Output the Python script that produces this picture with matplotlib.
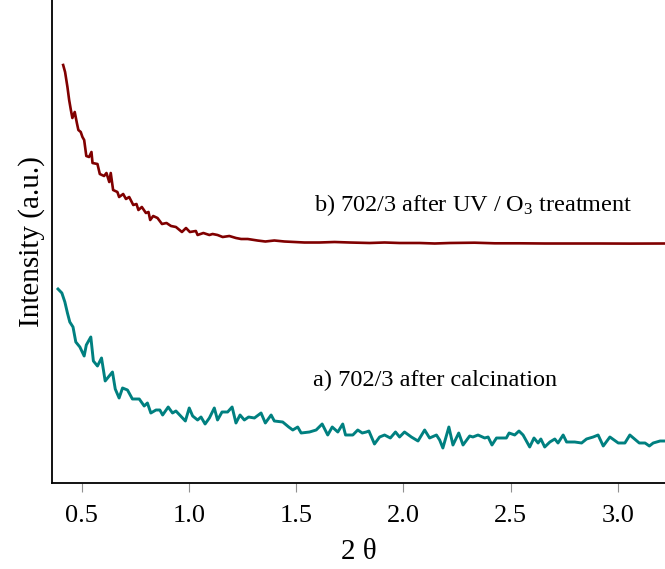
import matplotlib
matplotlib.use("Agg")
import matplotlib.pyplot as plt

plt.rcParams['font.family'] = ['Liberation Serif', 'DejaVu Serif']
plt.rcParams['mathtext.fontset'] = 'custom'
plt.rcParams['mathtext.rm'] = 'Liberation Serif'
plt.rcParams['mathtext.it'] = 'Liberation Serif:italic'

# a) 702/3 after calcination  (2 theta, intensity a.u.)
two_theta_a = [0.389, 0.407, 0.421, 0.433, 0.444, 0.459, 0.472, 0.491, 0.511, 0.521,
               0.542, 0.554, 0.573, 0.592, 0.609, 0.624, 0.643, 0.656, 0.674, 0.690,
               0.713, 0.736, 0.768, 0.791, 0.806, 0.822, 0.846, 0.864, 0.877, 0.903,
               0.923, 0.939, 0.983, 1.001, 1.017, 1.040, 1.056, 1.075, 1.095, 1.118,
               1.133, 1.154, 1.180, 1.201, 1.219, 1.238, 1.258, 1.278, 1.305, 1.336,
               1.356, 1.383, 1.398, 1.437, 1.465, 1.484, 1.507, 1.523, 1.562, 1.593,
               1.621, 1.647, 1.668, 1.694, 1.717, 1.730, 1.764, 1.787, 1.808, 1.827,
               1.839, 1.865, 1.889, 1.912, 1.939, 1.963, 1.982, 2.005, 2.037, 2.068,
               2.099, 2.122, 2.154, 2.169, 2.184, 2.212, 2.231, 2.258, 2.278, 2.309,
               2.324, 2.348, 2.379, 2.395, 2.413, 2.434, 2.480, 2.493, 2.519, 2.539,
               2.558, 2.589, 2.609, 2.628, 2.641, 2.659, 2.683, 2.706, 2.721, 2.745,
               2.761, 2.799, 2.831, 2.854, 2.885, 2.908, 2.932, 2.963, 3.002, 3.033,
               3.056, 3.100, 3.127, 3.147, 3.165, 3.197, 3.220]
intensity_a = [197, 193, 184, 173, 164, 159, 144, 139, 130, 141,
               149, 125, 120, 128, 105, 109, 114, 97, 88, 98,
               96, 87, 87, 80, 83, 73, 76, 76, 71, 79,
               73, 75, 65, 78, 70, 66, 69, 62, 68, 78,
               66, 74, 74, 79, 63, 71, 66, 69, 68, 73,
               63, 71, 65, 64, 59, 56, 59, 53, 54, 56,
               62, 51, 59, 54, 62, 51, 51, 56, 53, 54,
               55, 42, 49, 51, 48, 54, 49, 54, 49, 45,
               56, 48, 51, 46, 38, 59, 41, 53, 41, 50,
               49, 51, 48, 49, 41, 48, 48, 53, 51, 55,
               51, 39, 48, 43, 47, 39, 44, 47, 43, 51,
               44, 44, 43, 47, 49, 51, 40, 49, 43, 43,
               51, 43, 43, 40, 43, 45, 45]

# b) 702/3 after UV / O3 treatment
two_theta_b = [0.413, 0.422, 0.433, 0.441, 0.449, 0.456, 0.467, 0.477, 0.484, 0.495,
               0.503, 0.511, 0.521, 0.534, 0.545, 0.550, 0.573, 0.584, 0.604, 0.615,
               0.628, 0.635, 0.646, 0.666, 0.674, 0.693, 0.706, 0.721, 0.740, 0.755,
               0.764, 0.780, 0.799, 0.811, 0.819, 0.833, 0.853, 0.874, 0.895, 0.916,
               0.939, 0.967, 0.986, 1.004, 1.032, 1.040, 1.067, 1.095, 1.110, 1.133,
               1.157, 1.188, 1.219, 1.243, 1.274, 1.319, 1.356, 1.398, 1.445, 1.492,
               1.538, 1.608, 1.679, 1.749, 1.842, 1.912, 1.982, 2.076, 2.146, 2.216,
               2.332, 2.426, 2.543, 2.659, 2.776, 2.916, 3.056, 3.220]
intensity_b = [421, 414, 399, 386, 376, 368, 374, 363, 356, 354,
               349, 346, 330, 329, 334, 323, 322, 312, 310, 313,
               304, 313, 296, 294, 289, 292, 287, 289, 281, 282,
               276, 279, 273, 274, 266, 270, 268, 262, 263, 260,
               259, 254, 258, 254, 255, 251, 253, 251, 252, 251,
               249, 250, 248, 247, 247, 245.5, 244.5, 245.5, 244.5, 244,
               243.5, 243.5, 244, 243.5, 243, 243.5, 243, 243, 242.5, 243,
               243.3, 242.7, 242.7, 242.5, 242.5, 242.5, 242.4, 242.5]

fig = plt.figure(figsize=(6.65, 5.69), dpi=100)
ax = fig.add_axes([52 / 665, 86 / 569, 1 - 52 / 665, 1 - 86 / 569])

ax.plot(two_theta_b, intensity_b, color='#800000', lw=1.9)
ax.plot(two_theta_a, intensity_a, color='#008080', lw=2.1)

ax.text(1.585, 281, r'b) 702/3 after UV / O$_\mathrm{3}$ treatment', fontsize=17.5,
        va='center', ha='left')
ax.text(1.576, 106, 'a) 702/3 after calcination', fontsize=17.5, va='center', ha='left')

ax.set_xlim(0.361, 3.22)
ax.set_ylim(3, 486)
ax.set_xticks([0.5, 1.0, 1.5, 2.0, 2.5, 3.0])
ax.set_xticklabels(['0.5', '1.0', '1.5', '2.0', '2.5', '3.0'])
ax.set_yticks([])
ax.tick_params(axis='x', direction='out', length=6.5, width=0.8, color='#909090',
               labelsize=19, pad=9)

for s in ['top', 'right']:
    ax.spines[s].set_visible(False)
for s in ['left', 'bottom']:
    ax.spines[s].set_linewidth(1.3)

ax.set_xlabel('2 θ', fontsize=21, labelpad=9)
ax.set_ylabel('Intensity (a.u.)', fontsize=21, labelpad=5)

fig.savefig('out.png', dpi=100)
